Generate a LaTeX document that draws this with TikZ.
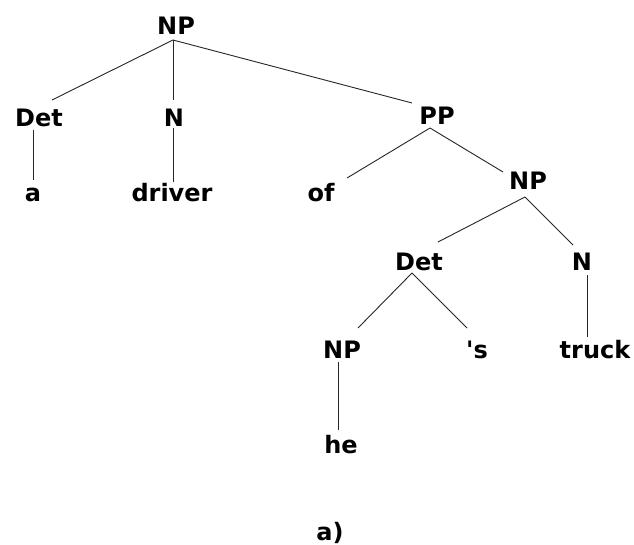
\documentclass[tikz,border=0pt]{standalone}
\usepackage{fontspec}
\setmainfont{DejaVu Sans}[Ligatures=TeXOff]
\begin{document}
\begin{tikzpicture}[x=1pt,y=-1pt,
  lbl/.style={anchor=base,inner sep=0pt,font=\bfseries\fontsize{24}{28}\selectfont},
  edge/.style={line width=0.9pt,black!85}]
\useasboundingbox[fill=white] (0,0) rectangle (634,545);
% labels, placed on their baselines
\node[lbl] (np)    at (176,35)  {NP};
\node[lbl] (det)   at (39,127)  {Det};
\node[lbl] (n)     at (174,127) {N};
\node[lbl] (pp)    at (437,125) {PP};
\node[lbl] (a)     at (33,202)  {a};
\node[lbl] (drv)   at (172,202) {driver};
\node[lbl] (of)    at (321,202) {of};
\node[lbl] (npb)   at (528,190) {NP};
\node[lbl] (detb)  at (419,270) {Det};
\node[lbl] (nb)    at (582,270) {N};
\node[lbl] (npc)   at (342,358) {NP};
\node[lbl] (poss)  at (477,358) {'s};
\node[lbl] (truck) at (595,358) {truck};
\node[lbl] (he)    at (341,453) {he};
\node[lbl] (cap)   at (330,540) {a)};
% branches
\draw[edge] ([shift={(-3,5)}]np.base) -- ([shift={(13,-27)}]det.base);
\draw[edge] ([shift={(-3,5)}]np.base) -- ([shift={(-1,-27)}]n.base);
\draw[edge] ([shift={(-3,5)}]np.base) -- ([shift={(-25,-22)}]pp.base);
\draw[edge] ([shift={(-6,3)}]det.base) -- ([shift={(0,-22)}]a.base);
\draw[edge] ([shift={(-1,1)}]n.base) -- ([shift={(1,-20)}]drv.base);
\draw[edge] ([shift={(-7,3)}]pp.base) -- ([shift={(26,-24)}]of.base);
\draw[edge] ([shift={(-7,3)}]pp.base) -- ([shift={(-25,-18)}]npb.base);
\draw[edge] ([shift={(-3,7)}]npb.base) -- ([shift={(19,-28)}]detb.base);
\draw[edge] ([shift={(-3,7)}]npb.base) -- ([shift={(-9,-25)}]nb.base);
\draw[edge] ([shift={(-7,3)}]detb.base) -- ([shift={(16,-30)}]npc.base);
\draw[edge] ([shift={(-7,3)}]detb.base) -- ([shift={(-10,-30)}]poss.base);
\draw[edge] ([shift={(5,5)}]nb.base) -- ([shift={(-8,-21)}]truck.base);
\draw[edge] ([shift={(-4,4)}]npc.base) -- ([shift={(-3,-23)}]he.base);
\end{tikzpicture}
\end{document}
